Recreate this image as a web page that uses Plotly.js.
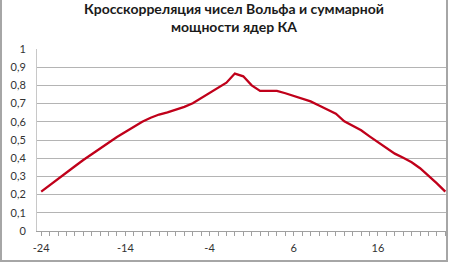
<!DOCTYPE html>
<html>
<head>
<meta charset="utf-8">
<script src="https://cdn.plot.ly/plotly-3.0.1.min.js"></script>
<style>
html,body{margin:0;padding:0;background:#fff;}
#wrap{position:relative;width:450px;height:264px;overflow:hidden;}
#chart{width:450px;height:264px;}
#frame{position:absolute;left:0px;top:-3px;width:444px;height:261px;border:2px solid #a6a6a6;pointer-events:none;}
</style>
</head>
<body>
<div id="wrap"><div id="chart"></div><div id="frame"></div></div>
<script>
// lag (categories) from -24 to 24
const lags = [-24,-23,-22,-21,-20,-19,-18,-17,-16,-15,-14,-13,-12,-11,-10,-9,-8,-7,-6,-5,-4,-3,-2,-1,
  0,1,2,3,4,5,6,7,8,9,10,11,12,13,14,15,16,17,18,19,20,21,22,23,24];
const corr = [0.216,0.252,0.288,0.322,0.356,0.39,0.423,0.455,0.485,0.516,0.545,0.573,0.60,0.622,0.64,0.652,0.665,0.682,0.702,0.73,0.755,0.785,0.815,0.865,
  0.85,0.80,0.77,0.77,0.77,0.757,0.742,0.728,0.712,0.69,0.668,0.645,0.603,0.578,0.553,0.52,0.488,0.455,0.425,0.402,0.378,0.345,0.305,0.262,0.216];
const xTickVals = [-24,-14,-4,6,16];
const xTickText = ['-24','-14','-4','6','16'];
const yTickVals = [0,0.1,0.2,0.3,0.4,0.5,0.6,0.7,0.8,0.9,1];
const yTickText = ['0','0,1','0,2','0,3','0,4','0,5','0,6','0,7','0,8','0,9','1'];
const titleText = 'Кросскорреляция чисел Вольфа и суммарной<br>мощности ядер КА';

Plotly.newPlot('chart', [{
  x: lags, y: corr, type: 'scatter', mode: 'lines',
  line: {color: '#c0001a', width: 2.3},
  hoverinfo: 'skip'
}], {
  width: 450, height: 264,
  margin: {l: 37, r: 3, t: 49, b: 33},
  paper_bgcolor: '#ffffff', plot_bgcolor: '#ffffff',
  showlegend: false,
  title: {text: titleText, x: 0.52, xanchor: 'center', yref: 'container', y: 0.948, yanchor: 'middle',
    font: {family: 'Lato, "Open Sans", sans-serif', size: 14, color: '#1a1a1a', weight: 'bold'}},
  xaxis: {
    range: [-24.5, 24.2],
    tickmode: 'array', tickvals: xTickVals, ticktext: xTickText,
    ticks: 'outside', ticklen: 4, tickcolor: '#a0a0a0', tickwidth: 1,
    minor: {dtick: 1, tick0: 0, ticks: 'outside', ticklen: 4, tickcolor: '#a0a0a0', showgrid: false},
    showgrid: false, zeroline: false,
    showline: true, linecolor: '#a0a0a0', linewidth: 1,
    tickfont: {family: 'Lato, "Open Sans", sans-serif', size: 11, color: '#333333'},
    ticklabelstandoff: 3
  },
  yaxis: {
    range: [0, 1],
    tickmode: 'array', tickvals: yTickVals, ticktext: yTickText,
    showgrid: true, gridcolor: '#b4b4b4', gridwidth: 1,
    zeroline: false, showline: true, linecolor: '#c8c8c8', linewidth: 1,
    ticks: '',
    tickfont: {family: 'Lato, "Open Sans", sans-serif', size: 11, color: '#333333'},
    ticklabelstandoff: 8
  }
}, {staticPlot: true, displayModeBar: false});
</script>
</body>
</html>
